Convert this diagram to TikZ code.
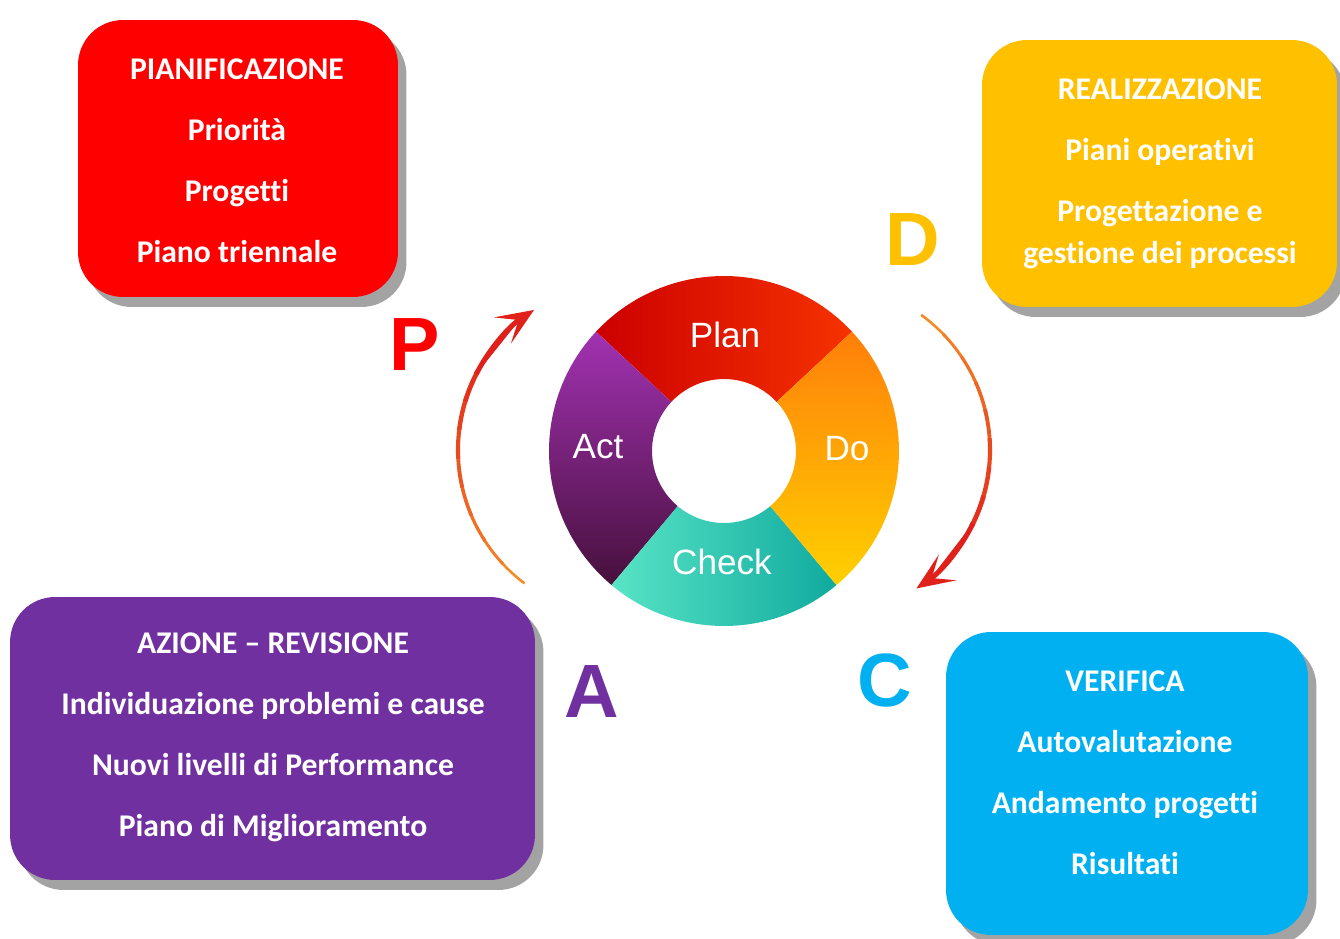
\documentclass[tikz,border=0pt]{standalone}
\usepackage{fontspec}
\setmainfont[Ligatures=NoCommon]{Carlito}
\newfontfamily\ringfont{Liberation Sans}
\usepackage{tikz}
\usetikzlibrary{positioning, calc, shadows}
\usetikzlibrary{arrows.meta}

\begin{document}
\begin{tikzpicture}[x=0.02cm, y=0.02cm, align=center, >={Stealth[length=0.75cm, width=0.62cm, inset=0.38cm]},
    cardbox/.style={rounded corners=0.9cm, inner sep=0pt, drop shadow={shadow xshift=0.17cm, shadow yshift=-0.2cm, fill=black!40, opacity=0.9}},
    cardtext/.style={text=white, font=\fontsize{18}{34.7}\selectfont\bfseries},
    bigletter/.style={font=\ringfont\fontsize{43}{43}\selectfont\bfseries},
    ringlabel/.style={text=white, font=\ringfont\fontsize{20}{24}\selectfont}]
        % Define colors
        \definecolor{pdcared}{HTML}{FF0000}
        \definecolor{pdcagold}{HTML}{FFC000}
        \definecolor{pdcapurple}{HTML}{7030A0}
        \definecolor{pdcablue}{HTML}{00B0F0}
        \definecolor{plandark}{HTML}{CC0000}
        \definecolor{planlight}{HTML}{F63200}
        \definecolor{dotop}{HTML}{FF7F0A}
        \definecolor{dobottom}{HTML}{FFD000}
        \definecolor{checklight}{HTML}{58E4C6}
        \definecolor{checkdark}{HTML}{10AA9E}
        \definecolor{acttop}{HTML}{A232B2}
        \definecolor{actbottom}{HTML}{47103C}
        \definecolor{arroworange}{HTML}{F58A28}
        \definecolor{arrowred}{HTML}{E0201B}

        \useasboundingbox (0,0) rectangle (1340,938);

        % Boxes
        \node[cardbox, fill=pdcared, minimum width=6.4cm, minimum height=5.54cm] (planbox) at (238,779.5) {};
        \node[cardbox, fill=pdcagold, minimum width=7.1cm, minimum height=5.34cm] (dobox) at (1159.5,764.5) {};
        \node[cardbox, fill=pdcapurple, minimum width=10.5cm, minimum height=5.66cm] (actbox) at (272.5,199.5) {};
        \node[cardbox, fill=pdcablue, minimum width=7.24cm, minimum height=6.06cm] (checkbox) at (1127,154.5) {};

        \node[cardtext] (plantext) at (237,777.5) {PIANIFICAZIONE\\Priorità\\Progetti\\Piano triennale};
        \node[cardtext] (dotext) at (1160,764) {REALIZZAZIONE\\Piani operativi\\Progettazione e\\[-10.8pt]gestione dei processi};
        \node[cardtext] (acttext) at (273,200.5) {AZIONE – REVISIONE\\Individuazione problemi e cause\\Nuovi livelli di Performance\\Piano di Miglioramento};
        \node[cardtext] (checktext) at (1125,165.5) {VERIFICA\\Autovalutazione\\Andamento progetti\\Risultati};

        % Letters
        \node[bigletter, text=pdcared] (letterP) at (415,593) {P};
        \node[bigletter, text=pdcagold] (letterD) at (913,698) {D};
        \node[bigletter, text=pdcapurple] (letterA) at (592,246) {A};
        \node[bigletter, text=pdcablue] (letterC) at (885,258) {C};

        % Ring
        \coordinate (ring) at (724,487);
        \shade[left color=plandark, right color=planlight] ($(ring)+(43:175)$) arc[start angle=43, end angle=137, radius=3.5cm] -- ($(ring)+(137:72)$) arc[start angle=137, end angle=43, radius=1.44cm] -- cycle;
        \shade[top color=acttop, bottom color=actbottom] ($(ring)+(137:175)$) arc[start angle=137, end angle=230, radius=3.5cm] -- ($(ring)+(230:72)$) arc[start angle=230, end angle=137, radius=1.44cm] -- cycle;
        \shade[left color=checklight, right color=checkdark] ($(ring)+(230:175)$) arc[start angle=230, end angle=310, radius=3.5cm] -- ($(ring)+(310:72)$) arc[start angle=310, end angle=230, radius=1.44cm] -- cycle;
        \shade[top color=dotop, bottom color=dobottom] ($(ring)+(-50:175)$) arc[start angle=-50, end angle=43, radius=3.5cm] -- ($(ring)+(43:72)$) arc[start angle=43, end angle=-50, radius=1.44cm] -- cycle;

        \node[ringlabel] (plan) at (725,603) {Plan};
        \node[ringlabel] (do) at (847,489) {Do};
        \node[ringlabel] (check) at (722,376) {Check};
        \node[ringlabel] (act) at (598,491) {Act};

        % Cycle arrows
        \coordinate (cycleL) at (625,488);
        \coordinate (cycleR) at (823,488);
        \foreach \c/\s in {cycleL/233, cycleR/54} {
            \foreach \i in {0,...,7} {
                \pgfmathsetmacro{\ta}{\s-10*\i}
                \pgfmathsetmacro{\tb}{\ta-11}
                \pgfmathtruncatemacro{\p}{\i*12}
                \draw[line width=1.5pt+0.17pt*\i, draw=arrowred!\p!arroworange] (\c) ++(\ta:167) arc[start angle=\ta, end angle=\tb, radius=3.34cm];
            }
        }
        \draw[->, line width=2.8pt, draw=arrowred, fill=arrowred] (cycleL) ++(153:167) arc[start angle=153, end angle=123, radius=3.34cm];
        \draw[->, line width=2.8pt, draw=arrowred, fill=arrowred] (cycleR) ++(-26:167) arc[start angle=-26, end angle=-56, radius=3.34cm];
\end{tikzpicture}
\end{document}
